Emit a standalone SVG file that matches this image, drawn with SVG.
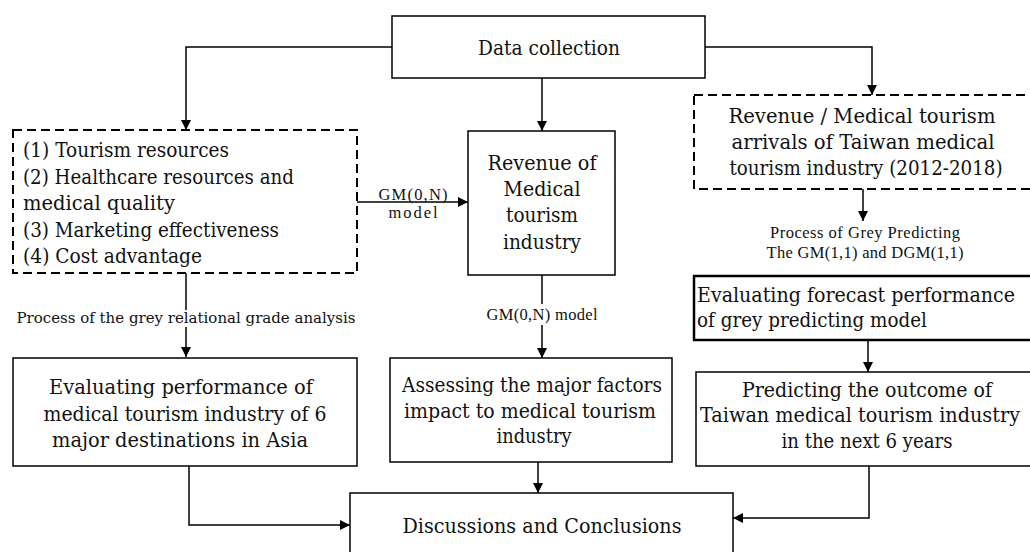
<svg xmlns="http://www.w3.org/2000/svg" width="1030" height="552" viewBox="0 0 1030 552">
<style>
.box{fill:#fff;stroke:#000;stroke-width:1.5}
.dash{fill:#fff;stroke:#000;stroke-width:2;stroke-dasharray:9 5}
.thick{fill:#fff;stroke:#000;stroke-width:2.5}
.t{font-family:"DejaVu Serif","Liberation Serif",serif;font-size:20px;fill:#111}
.s{font-family:"Liberation Serif","Times New Roman",serif;font-size:16.5px;fill:#111}
.ss{font-family:"DejaVu Serif","Liberation Serif",serif;font-size:14.5px;fill:#111}
.c{text-anchor:middle}
.ln{fill:none;stroke:#000;stroke-width:1.5}
</style>
<defs>
<marker id="ah" viewBox="0 0 10 10" refX="10" refY="5" markerWidth="10" markerHeight="10" markerUnits="userSpaceOnUse" orient="auto">
<path d="M0,0 L10,5 L0,10 z" fill="#000"/>
</marker>
</defs>
<g id="connectors">
<path class="ln" d="M392,47 H186 V130" marker-end="url(#ah)"/>
<path class="ln" d="M542,78 V131" marker-end="url(#ah)"/>
<path class="ln" d="M705,47 H872 V95" marker-end="url(#ah)"/>
<path class="ln" d="M357,202 H468" marker-end="url(#ah)"/>
<path class="ln" d="M542,275 V304"/>
<path class="ln" d="M542,325 V358" marker-end="url(#ah)"/>
<path class="ln" d="M186,273 V310"/>
<path class="ln" d="M186,327 V357" marker-end="url(#ah)"/>
<path class="ln" d="M863,189 V221" marker-end="url(#ah)"/>
<path class="ln" d="M868,340 V372" marker-end="url(#ah)"/>
<path class="ln" d="M189,466 V525 H350" marker-end="url(#ah)"/>
<path class="ln" d="M538,462 V493" marker-end="url(#ah)"/>
<path class="ln" d="M869,466 V518 H733" marker-end="url(#ah)"/>
<text class="s c" x="413" y="200" textLength="69">GM(0,N)</text>
<text class="s c" x="413" y="218" textLength="49">model</text>
<text class="s c" x="542" y="320" textLength="111">GM(0,N) model</text>
<text class="ss c" x="186" y="323" textLength="339" lengthAdjust="spacingAndGlyphs">Process of the grey relational grade analysis</text>
<text class="s c" x="865" y="238" textLength="190">Process of Grey Predicting</text>
<text class="s c" x="865" y="258" textLength="197">The GM(1,1) and DGM(1,1)</text>
</g>
<g id="data-collection">
<rect class="box" x="392" y="16" width="313" height="62"/>
<text class="t c" x="549" y="55" textLength="142" lengthAdjust="spacingAndGlyphs">Data collection</text>
</g>
<g id="factors">
<rect class="dash" x="13" y="130" width="344" height="143"/>
<text class="t" x="23" y="157" textLength="206" lengthAdjust="spacingAndGlyphs">(1) Tourism resources</text>
<text class="t" x="23" y="184" textLength="271" lengthAdjust="spacingAndGlyphs">(2) Healthcare resources and</text>
<text class="t" x="23" y="210" textLength="152" lengthAdjust="spacingAndGlyphs">medical quality</text>
<text class="t" x="23" y="237" textLength="256" lengthAdjust="spacingAndGlyphs">(3) Marketing effectiveness</text>
<text class="t" x="23" y="263" textLength="179" lengthAdjust="spacingAndGlyphs">(4) Cost advantage</text>
</g>
<g id="revenue">
<rect class="box" x="468" y="131" width="147" height="144"/>
<text class="t c" x="542" y="170" textLength="109" lengthAdjust="spacingAndGlyphs">Revenue of</text>
<text class="t c" x="542" y="196" textLength="77" lengthAdjust="spacingAndGlyphs">Medical</text>
<text class="t c" x="542" y="222" textLength="72" lengthAdjust="spacingAndGlyphs">tourism</text>
<text class="t c" x="542" y="249" textLength="78" lengthAdjust="spacingAndGlyphs">industry</text>
</g>
<g id="taiwan-data">
<rect class="dash" x="694" y="95" width="345" height="94"/>
<text class="t c" x="862" y="123" textLength="267" lengthAdjust="spacingAndGlyphs">Revenue / Medical tourism</text>
<text class="t c" x="863" y="149" textLength="263" lengthAdjust="spacingAndGlyphs">arrivals of Taiwan medical</text>
<text class="t c" x="866" y="175" textLength="273" lengthAdjust="spacingAndGlyphs">tourism industry (2012-2018)</text>
</g>
<g id="forecast">
<rect class="thick" x="694" y="276" width="345" height="64"/>
<text class="t" x="697" y="302" textLength="318" lengthAdjust="spacingAndGlyphs">Evaluating forecast performance</text>
<text class="t" x="697" y="327" textLength="230" lengthAdjust="spacingAndGlyphs">of grey predicting model</text>
</g>
<g id="evaluating">
<rect class="box" x="13" y="358" width="344" height="108"/>
<text class="t c" x="181" y="394" textLength="264" lengthAdjust="spacingAndGlyphs">Evaluating performance of</text>
<text class="t c" x="185" y="421" textLength="283" lengthAdjust="spacingAndGlyphs">medical tourism industry of 6</text>
<text class="t c" x="180" y="447" textLength="256" lengthAdjust="spacingAndGlyphs">major destinations in Asia</text>
</g>
<g id="assessing">
<rect class="box" x="390" y="358" width="282" height="104"/>
<text class="t c" x="532" y="392" textLength="260" lengthAdjust="spacingAndGlyphs">Assessing the major factors</text>
<text class="t c" x="530" y="418" textLength="252" lengthAdjust="spacingAndGlyphs">impact to medical tourism</text>
<text class="t c" x="534" y="443" textLength="75" lengthAdjust="spacingAndGlyphs">industry</text>
</g>
<g id="predicting">
<rect class="box" x="696" y="372" width="345" height="94"/>
<text class="t c" x="867" y="397" textLength="250" lengthAdjust="spacingAndGlyphs">Predicting the  outcome of</text>
<text class="t c" x="860" y="422" textLength="320" lengthAdjust="spacingAndGlyphs">Taiwan medical tourism industry</text>
<text class="t c" x="867" y="448" textLength="171" lengthAdjust="spacingAndGlyphs">in the next 6 years</text>
</g>
<g id="conclusions">
<rect class="box" x="350" y="493" width="383" height="70"/>
<text class="t c" x="542" y="533" textLength="279" lengthAdjust="spacingAndGlyphs">Discussions and Conclusions</text>
</g>
</svg>
